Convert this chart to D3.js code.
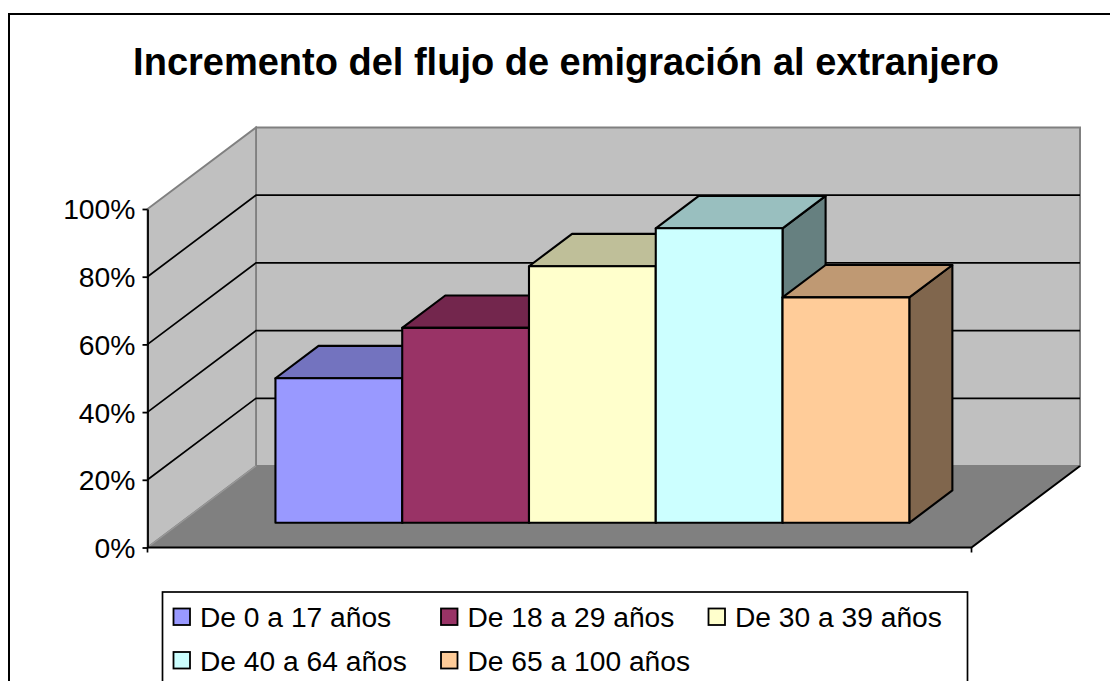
<!DOCTYPE html>
<html>
<head>
<meta charset="utf-8">
<script src="https://cdn.jsdelivr.net/npm/d3@7"></script>
<style>
html,body{margin:0;padding:0;background:#fff;overflow:hidden}
svg{display:block}
text{font-family:"Liberation Sans",Arial,sans-serif;fill:#000}
</style>
</head>
<body>
<svg id="chart" width="1110" height="681"></svg>
<script>
const chartTitle = "Incremento del flujo de emigración al extranjero";
const categories = ["De 0 a 17 años","De 18 a 29 años","De 30 a 39 años","De 40 a 64 años","De 65 a 100 años"];
const values = [42.7,57.6,75.8,87,66.6];
const colors = ["#9999FF","#993366","#FFFFCC","#CCFFFF","#FFCC99"];
const yTicks = [0,20,40,60,80,100];
const gridTicks = [20,40,60,80];

const svg = d3.select("#chart");
const W = 1110, H = 681;

// outer chart frame (runs past the lower and right edge of the picture)
svg.append("rect").attr("x",9).attr("y",14).attr("width",W+20).attr("height",H+20)
  .attr("fill","#fff").attr("stroke","#000").attr("stroke-width",2);

svg.append("text").attr("x",566).attr("y",74.5).attr("text-anchor","middle")
  .attr("font-size",38).attr("font-weight","bold").text(chartTitle);

// oblique projection
const y = d3.scaleLinear().domain([0,100]).range([547.5,209]);
const x = d3.scaleBand().domain(categories).range([147.5,971.5]).paddingInner(0).paddingOuter(0.75);
const depthX = 108.5, depthY = 81.5;
const barFront = 0.303, barBack = 0.70;
const P = (px, v, t) => [px + t*depthX, y(v) - t*depthY];
const poly = pts => "M" + pts.map(p => p.join(",")).join("L") + "Z";
const seg = pts => "M" + pts.map(p => p.join(",")).join("L");
const [x0,x1] = x.range();

// walls and floor
const wallStroke = "#808080";
svg.append("path").attr("d",poly([P(x0,0,1),P(x1,0,1),P(x1,100,1),P(x0,100,1)]))
  .attr("fill","#C0C0C0").attr("stroke",wallStroke).attr("stroke-width",2);
svg.append("path").attr("d",poly([P(x0,0,0),P(x0,0,1),P(x0,100,1),P(x0,100,0)]))
  .attr("fill","#C0C0C0").attr("stroke",wallStroke).attr("stroke-width",1.8);
svg.append("path").attr("d",poly([P(x0,0,0),P(x1,0,0),P(x1,0,1),P(x0,0,1)]))
  .attr("fill","#808080").attr("stroke","none");
svg.append("path").attr("d",seg([P(x0,0,0),P(x0,0,1)]))
  .attr("fill","none").attr("stroke","#999").attr("stroke-width",1.2);

// gridlines
svg.append("g").selectAll("path").data(gridTicks).join("path")
  .attr("d",v => seg([P(x0,v,0),P(x0,v,1),P(x1,v,1)]))
  .attr("fill","none").attr("stroke","#000").attr("stroke-width",1.7);

// floor front and right edges
svg.append("path").attr("d",seg([P(x1,0,1),P(x1,0,0),P(x0,0,0)]))
  .attr("fill","none").attr("stroke","#000").attr("stroke-width",2);
svg.append("path").attr("d",seg([P(x1,0,0),[x1,y(0)+5]]))
  .attr("fill","none").attr("stroke","#000").attr("stroke-width",1.7);
svg.append("path").attr("d",seg([P(x0,0,0),[x0,y(0)+5]]))
  .attr("fill","none").attr("stroke","#000").attr("stroke-width",1.7);

// bars
const shade = (c,k) => { const r = d3.rgb(c); return d3.rgb(r.r*k,r.g*k,r.b*k).formatHex(); };
const bars = svg.append("g").selectAll("g").data(categories).join("g")
  .attr("stroke","#000").attr("stroke-width",2.1).attr("stroke-linejoin","round");
bars.append("path").attr("fill",(d,i)=>shade(colors[i],0.5))
  .attr("d",(d,i)=>{const r=x(d)+x.bandwidth();return poly([P(r,0,barFront),P(r,0,barBack),P(r,values[i],barBack),P(r,values[i],barFront)]);});
bars.append("path").attr("fill",(d,i)=>shade(colors[i],0.75))
  .attr("d",(d,i)=>{const l=x(d),r=l+x.bandwidth();return poly([P(l,values[i],barFront),P(r,values[i],barFront),P(r,values[i],barBack),P(l,values[i],barBack)]);});
bars.append("path").attr("fill",(d,i)=>colors[i])
  .attr("d",(d,i)=>{const l=x(d),r=l+x.bandwidth();return poly([P(l,0,barFront),P(r,0,barFront),P(r,values[i],barFront),P(l,values[i],barFront)]);});

// value axis
const axis = svg.append("g").attr("transform",`translate(${x0},0)`)
  .call(d3.axisLeft(y).tickValues(yTicks).tickFormat(d=>d+"%").tickSize(5).tickSizeOuter(0).tickPadding(7));
axis.selectAll("path,line").attr("stroke","#000").attr("stroke-width",1.8);
axis.selectAll("text").attr("font-size",28.3).attr("font-family","Liberation Sans").attr("fill","#000").attr("dy","0.35em");

// legend
const legend = svg.append("g");
legend.append("rect").attr("x",162.5).attr("y",592).attr("width",805).attr("height",H)
  .attr("fill","#fff").attr("stroke","#000").attr("stroke-width",1.7);
const legendCols = [173.5,441,708.5];
const legendRows = [608.5,652];
const items = legend.selectAll("g").data(categories).join("g")
  .attr("transform",(d,i)=>`translate(${legendCols[i%3]},${legendRows[Math.floor(i/3)]})`);
items.append("rect").attr("width",16.5).attr("height",16.5)
  .attr("fill",(d,i)=>colors[i]).attr("stroke","#000").attr("stroke-width",1.8);
items.append("text").attr("x",26.5).attr("y",18.7).attr("font-size",28.2).text(d=>d);
</script>
</body>
</html>
